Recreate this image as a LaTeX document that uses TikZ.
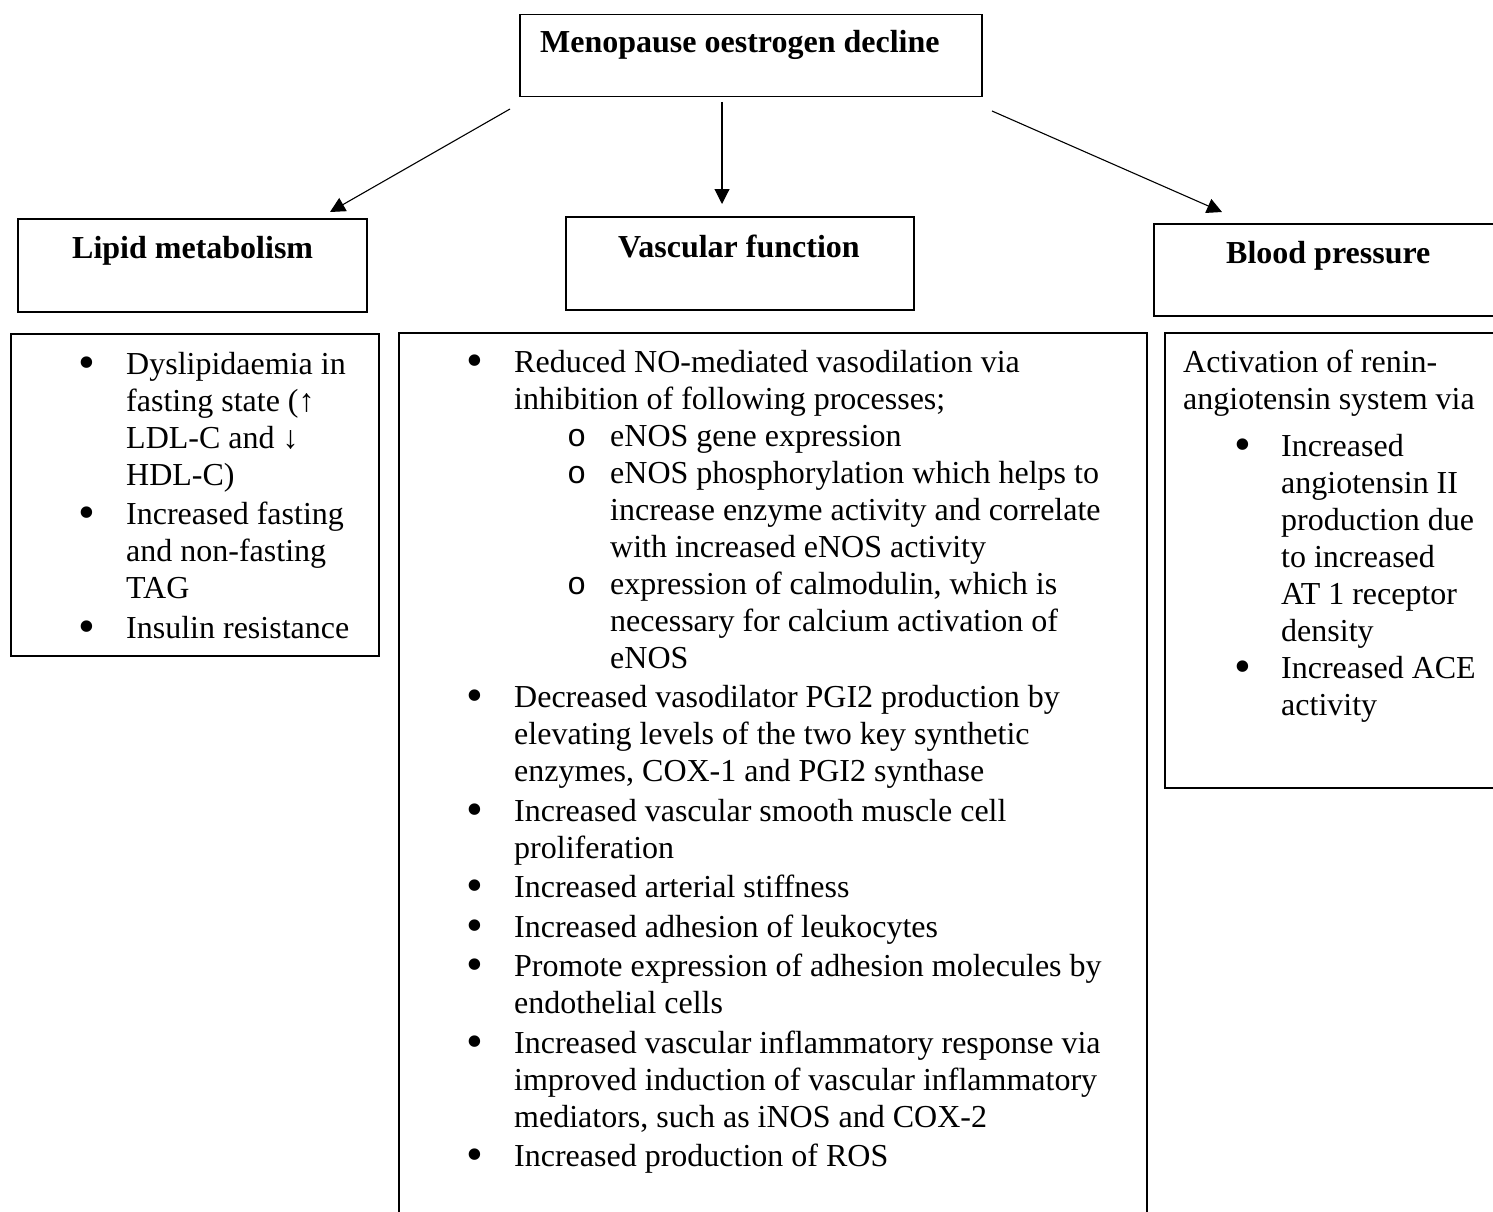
\documentclass[tikz,border=0pt]{standalone}
\usepackage{fontspec}
\usepackage{graphicx}
\setmainfont{Liberation Serif}
\setmonofont{Liberation Mono}
\usetikzlibrary{arrows.meta}
\newcommand\bodyfont{\fontsize{32}{37}\selectfont\setlength\parindent{0pt}\setlength\parskip{2.5pt}}
\newcommand\bigbul{\smash{\raisebox{-4pt}{\scalebox{1.5}{\textbullet}}}}
\newcommand\mitem[1]{\par\noindent\llap{\makebox[48pt][l]{\bigbul}}#1\par}
\newcommand\sitem[1]{{\leftskip=96pt\parskip=0pt\par\noindent\llap{\makebox[43pt][l]{\ttfamily o}}#1\par}}
\newcommand\bpitem[1]{{\leftskip=98pt\parskip=0pt\par\noindent\llap{\makebox[47pt][l]{\bigbul}}#1\par}}
\begin{document}
\begin{tikzpicture}[x=1pt,y=-1pt,
  box/.style={draw, line width=1.5pt, anchor=north west, inner sep=0pt},
  conn/.style={line width=1.1pt, -{Triangle[length=15pt,width=15pt]}},
  head/.style={font=\fontsize{32}{37}\bfseries\selectfont, anchor=base west, inner sep=0pt},
  body/.style={anchor=base west, inner sep=0pt}]
\useasboundingbox (0,0) rectangle (1493,1212);

% boxes
\node[box, minimum width=462pt, minimum height=82pt] (topbox) at (519,14) {};
\node[box, minimum width=349pt, minimum height=93pt] (lipbox) at (17,218) {};
\node[box, minimum width=348pt, minimum height=93pt] (vasbox) at (565,216) {};
\node[box, minimum width=360pt, minimum height=92pt] (bpbox) at (1153,223) {};
\node[box, minimum width=368pt, minimum height=322pt] (lipcont) at (10,333) {};
\node[box, minimum width=748pt, minimum height=890pt] (vascont) at (398,332) {};
\node[box, minimum width=350pt, minimum height=455pt] (bpcont) at (1164,332) {};

% headings
\node[head] (toptxt) at (540,53) {Menopause oestrogen decline};
\node[head] (liptxt) at (72,258) {Lipid metabolism};
\node[head] (vastxt) at (618,257) {Vascular function};
\node[head] (bptxt) at (1226,263) {Blood pressure};

% arrows
\coordinate (a1s) at (510,109); \coordinate (a1e) at (330,212);
\coordinate (a2s) at (722,102); \coordinate (a2e) at (722,204);
\coordinate (a3s) at (992,111); \coordinate (a3e) at (1222,212);
\draw[conn] (a1s) -- (a1e);
\draw[conn] (a2s) -- (a2e);
\draw[conn] (a3s) -- (a3e);

% lipid content
\node[body] (liptext) at (126,374) {\parbox[t]{250pt}{\bodyfont
\mitem{Dyslipidaemia in\\fasting state (↑\\LDL-C and ↓\\HDL-C)}
\mitem{Increased fasting\\and non-fasting\\TAG}
\mitem{Insulin resistance}}};

% vascular content
\node[body] (vastext) at (514,372) {\parbox[t]{620pt}{\bodyfont
\mitem{Reduced NO-mediated vasodilation via\\inhibition of following processes;}
\sitem{eNOS gene expression}
\sitem{eNOS phosphorylation which helps to\\increase enzyme activity and correlate\\with increased eNOS activity}
\sitem{expression of calmodulin, which is\\necessary for calcium activation of\\eNOS}
\mitem{Decreased vasodilator PGI2 production by\\elevating levels of the two key synthetic\\enzymes, COX-1 and PGI2 synthase}
\mitem{Increased vascular smooth muscle cell\\proliferation}
\mitem{Increased arterial stiffness}
\mitem{Increased adhesion of leukocytes}
\mitem{Promote expression of adhesion molecules by\\endothelial cells}
\mitem{Increased vascular inflammatory response via\\improved induction of vascular inflammatory\\mediators, such as iNOS and COX-2}
\mitem{Increased production of ROS}}};

% blood pressure content
\node[body] (bptext) at (1183,372) {\parbox[t]{300pt}{\bodyfont
Activation of renin-\\angiotensin system via\par\vspace{10pt}
\bpitem{Increased\\angiotensin II\\production due\\to increased\\AT 1 receptor\\density}
\bpitem{Increased ACE\\activity}}};
\end{tikzpicture}
\end{document}
